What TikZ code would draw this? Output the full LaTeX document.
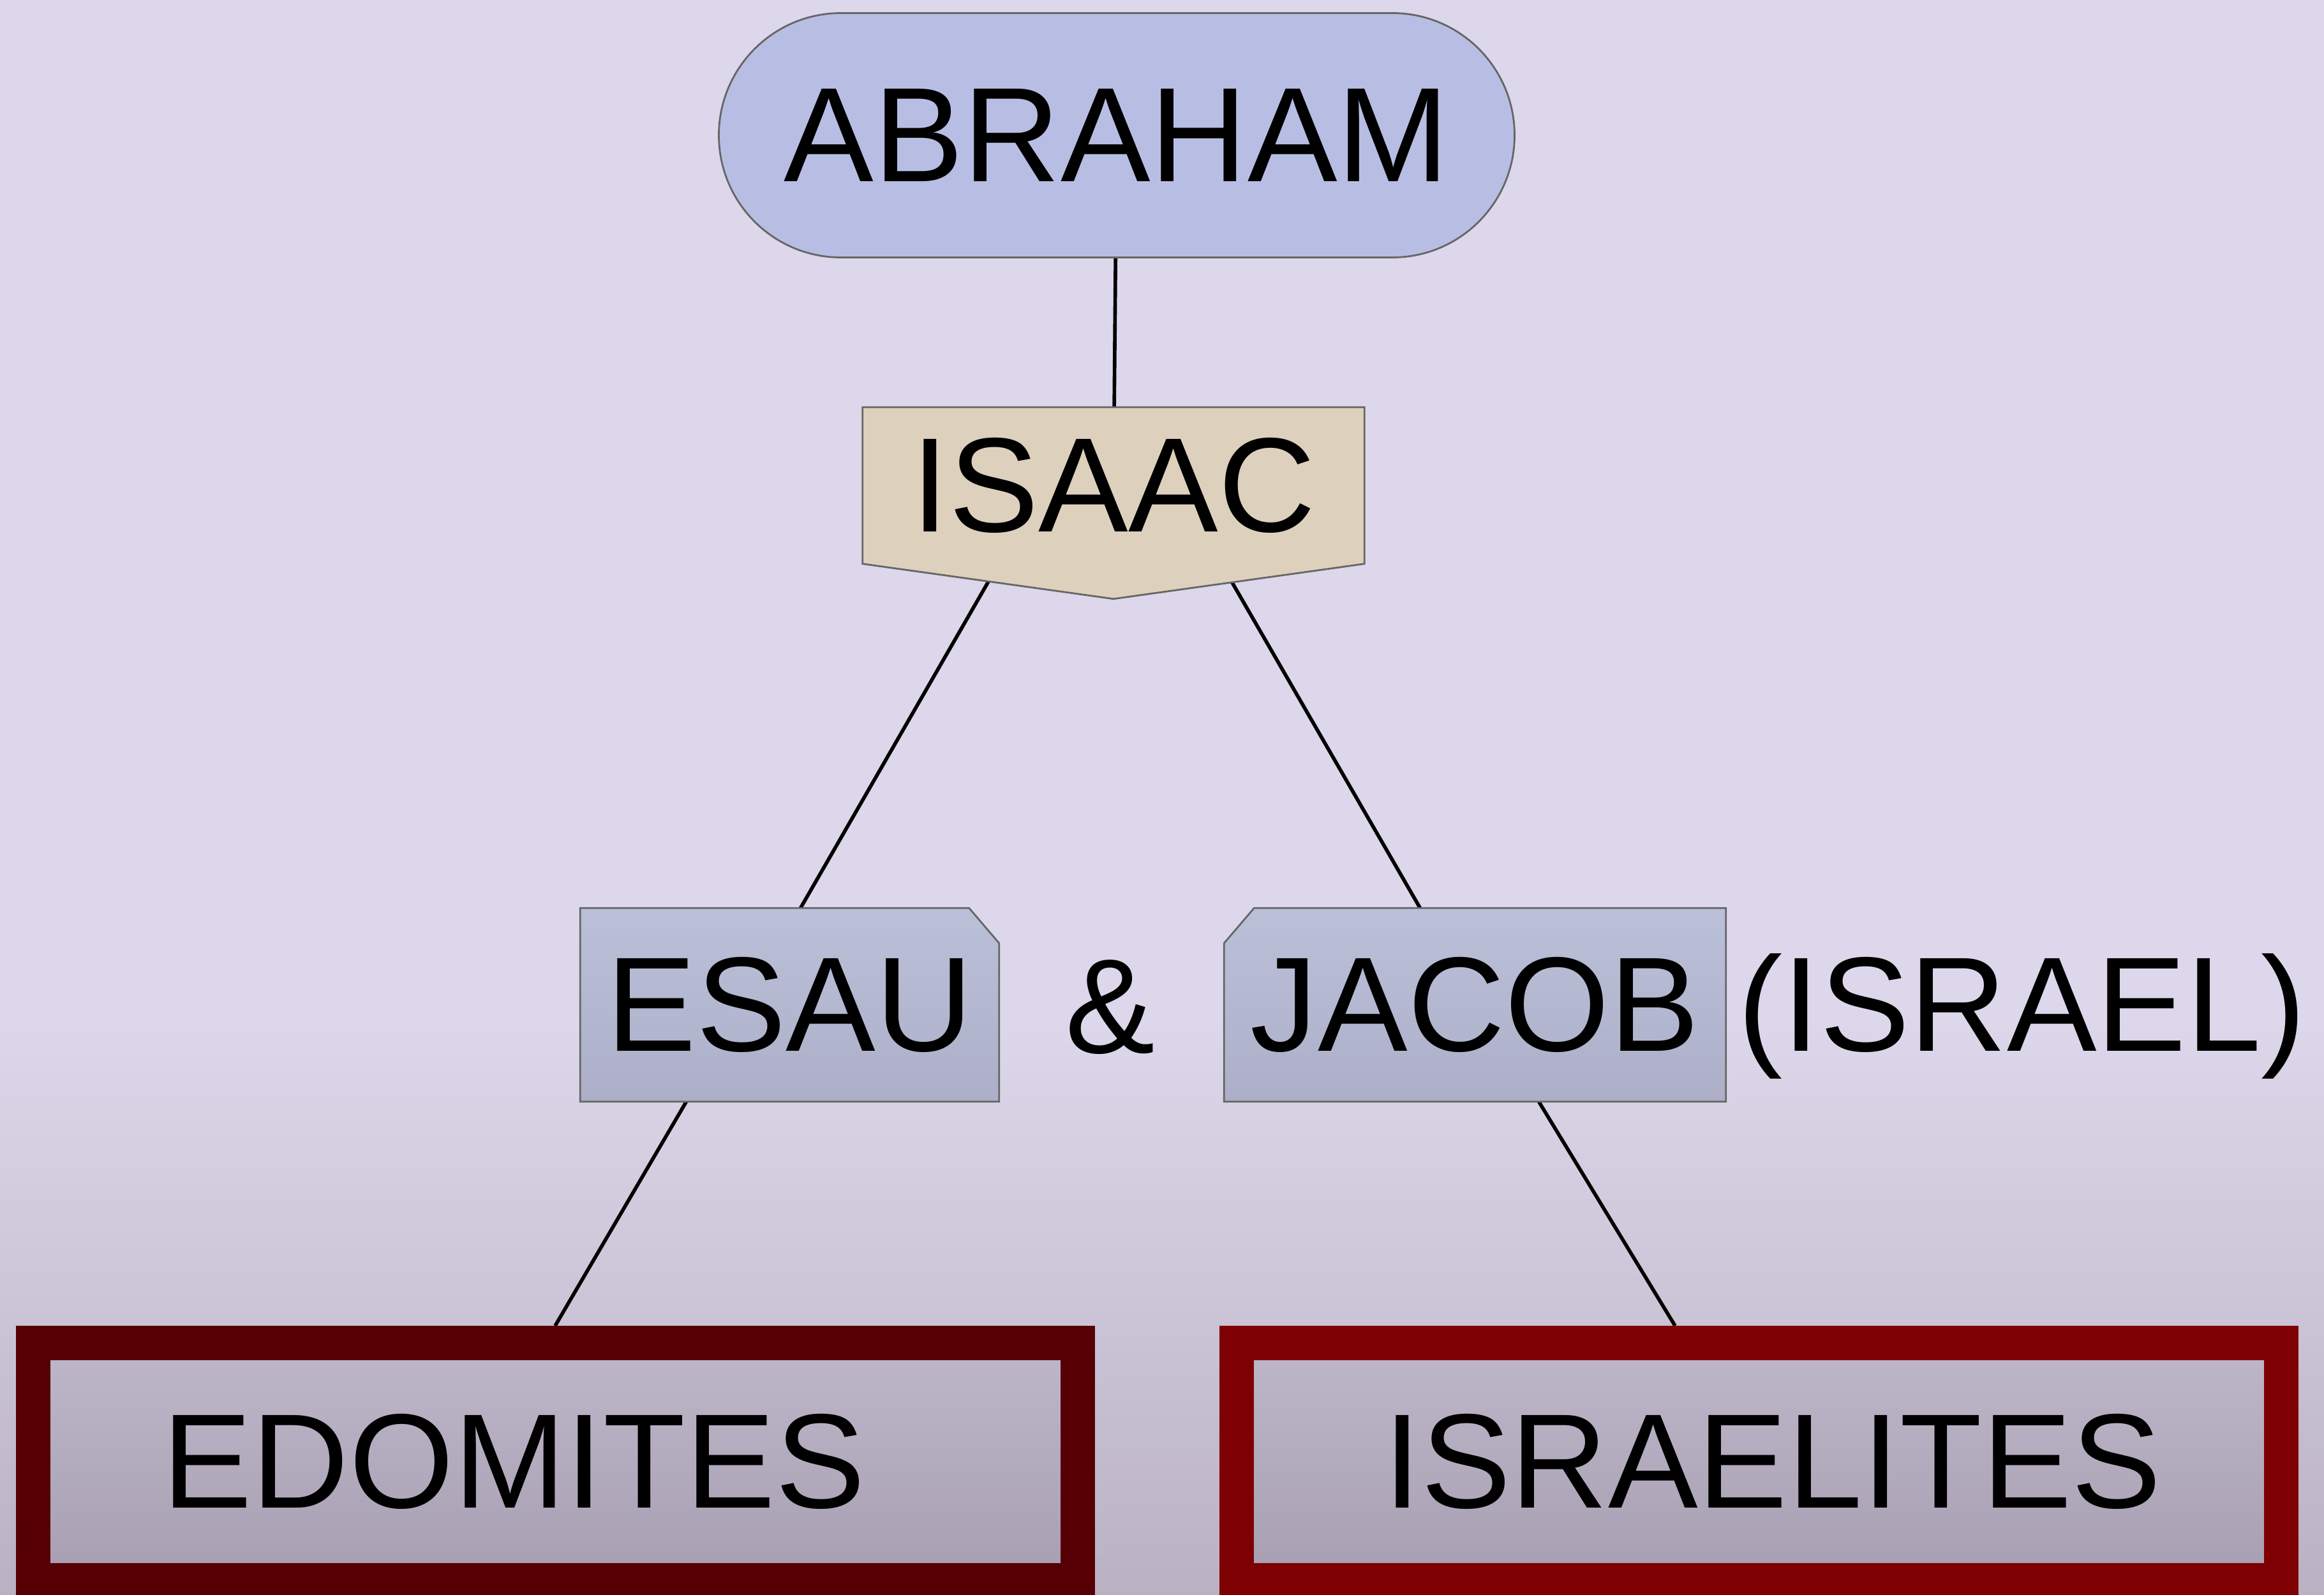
\documentclass[tikz,border=0pt]{standalone}
\usepackage{fontspec}
\setmainfont{Liberation Sans}
\usetikzlibrary{positioning,backgrounds}
\usetikzlibrary{shapes.misc}
\definecolor{bgtop}{HTML}{DCD7EA}
\definecolor{bgbot}{HTML}{BAB2C3}
\definecolor{abfill}{HTML}{B8BEE3}
\definecolor{isfill}{HTML}{DDD1BE}
\definecolor{sontop}{HTML}{BBC0D9}
\definecolor{sonbot}{HTML}{ACAFC7}
\definecolor{edomred}{HTML}{560006}
\definecolor{israred}{HTML}{7E0002}
\definecolor{innertop}{HTML}{BEB7CA}
\definecolor{innerbot}{HTML}{A79FB1}
\tikzstyle{txt}=[inner sep=0pt, font=\fontsize{60}{72}\selectfont]
\tikzstyle{son}=[txt, minimum height=3.02cm]
\tikzstyle{nation}=[txt, line width=0.54cm, minimum width=16.37cm, minimum height=3.72cm, top color=innertop, bottom color=innerbot]
\tikzstyle{outline}=[draw=black!60, line width=0.8pt]
\tikzstyle{link}=[draw=black, line width=1.6pt]

\begin{document}
\begin{tikzpicture}
		\useasboundingbox (0,0) rectangle (36.42,-24.99);
		\node[txt, rounded rectangle, outline, fill=abfill, minimum width=12.47cm, minimum height=3.83cm] (ABRAHAM) at (17.50,-2.12) {ABRAHAM};
		\node[txt, minimum width=7.85cm, minimum height=2.44cm] (ISAAC) at (17.45,-7.61) {ISAAC};
		\node[son, minimum width=6.55cm] (ESAU) at (12.375,-15.75) {ESAU};
		\node[son, minimum width=7.85cm] (JACOB) at (23.115,-15.75) {JACOB};
		\node[txt] (AND) at (17.40,-15.79) {\&};
		\node[txt] (ISRAEL) [base right = 0.18cm of JACOB] {(ISRAEL)};
		\node[nation, draw=edomred] (EDOM) at (8.70,-22.91) {EDOMITES\hspace*{1.3cm}\mbox{}};
		\node[nation, draw=israred] (ISRL) at (27.56,-22.91) {\hspace*{0.44cm}ISRAELITES};
		\begin{scope}[on background layer]
			\fill[bgtop] (0,0) rectangle (36.42,-16);
			\shade[top color=bgtop, bottom color=bgbot] (0,-16) rectangle (36.42,-24.99);
			\draw[link] (ABRAHAM) -- (ISAAC);
			\draw[link] ([xshift=-1.80cm]ISAAC.south) -- ([xshift=0.17cm]ESAU.north);
			\draw[link] ([xshift=1.69cm]ISAAC.south) -- ([xshift=-0.86cm]JACOB.north);
			\draw[link] ([xshift=-1.62cm]ESAU.south) -- (EDOM.north);
			\draw[link] ([xshift=1.0cm]JACOB.south) -- ([xshift=-1.31cm]ISRL.north);
			\draw[outline, fill=isfill] (ISAAC.north west) -- (ISAAC.north east) -- (ISAAC.south east) -- ([yshift=-0.55cm]ISAAC.south) -- (ISAAC.south west) -- cycle;
			\draw[outline, top color=sontop, bottom color=sonbot] (ESAU.south west) -- (ESAU.north west) -- ([xshift=-0.47cm]ESAU.north east) -- ([yshift=-0.55cm]ESAU.north east) -- (ESAU.south east) -- cycle;
			\draw[outline, top color=sontop, bottom color=sonbot] (JACOB.south west) -- ([yshift=-0.55cm]JACOB.north west) -- ([xshift=0.47cm]JACOB.north west) -- (JACOB.north east) -- (JACOB.south east) -- cycle;
		\end{scope}
	\end{tikzpicture}
\end{document}
